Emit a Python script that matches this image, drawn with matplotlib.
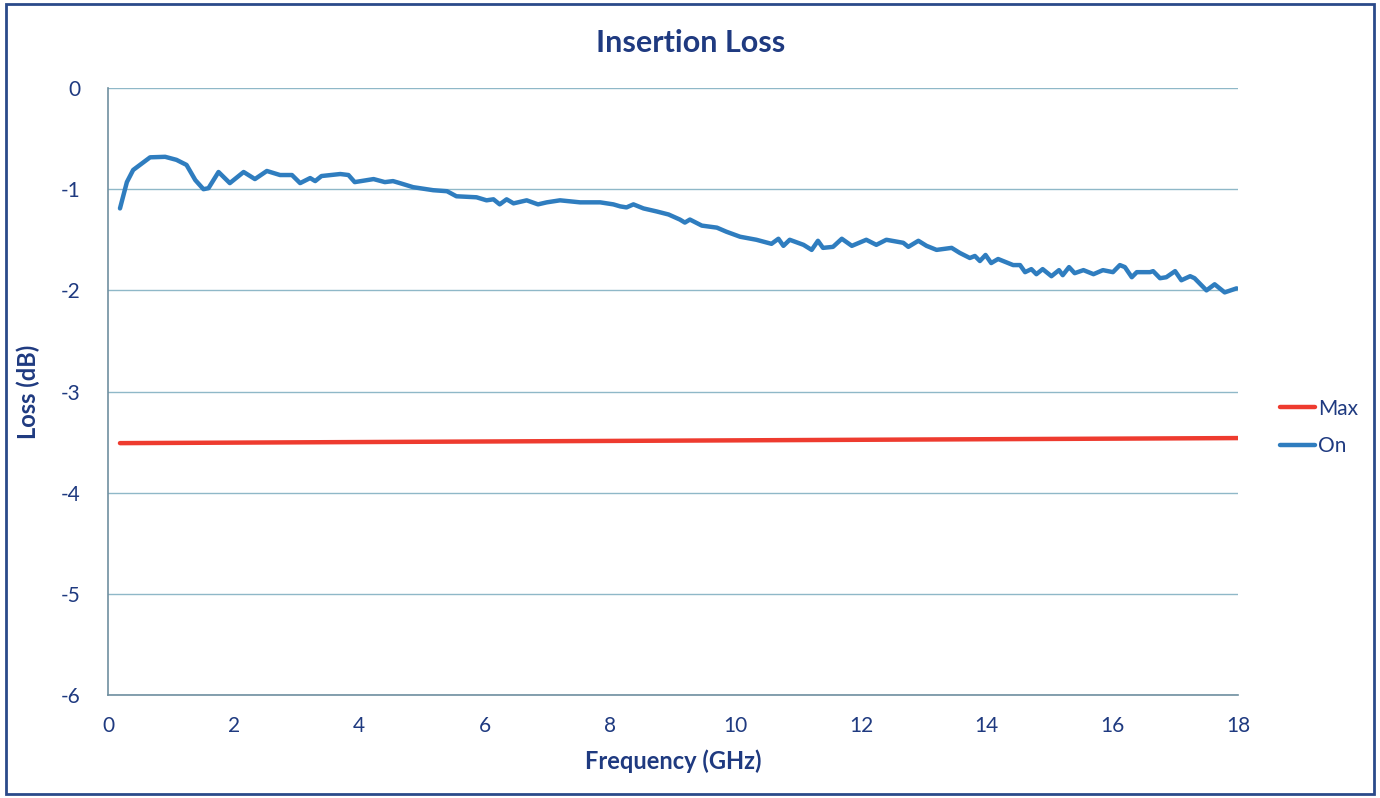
import matplotlib.pyplot as plt
from matplotlib.patches import Rectangle

freq_on = [0.19, 0.30, 0.40, 0.67, 0.91, 1.09, 1.25, 1.39, 1.52, 1.60, 1.76, 1.94,
           2.16, 2.34, 2.53, 2.74, 2.93, 3.06, 3.22, 3.30, 3.40, 3.70, 3.83, 3.93,
           4.23, 4.41, 4.54, 4.65, 4.86, 5.18, 5.40, 5.55, 5.87, 6.03, 6.14, 6.24,
           6.35, 6.46, 6.67, 6.85, 6.99, 7.20, 7.52, 7.84, 8.05, 8.16, 8.26, 8.37,
           8.53, 8.74, 8.93, 9.11, 9.19, 9.27, 9.46, 9.70, 9.85, 10.07, 10.33, 10.57,
           10.68, 10.76, 10.86, 11.08, 11.21, 11.31, 11.39, 11.55, 11.69, 11.85, 12.08,
           12.24, 12.40, 12.67, 12.75, 12.91, 13.04, 13.20, 13.44, 13.57, 13.73, 13.81,
           13.89, 13.98, 14.07, 14.18, 14.42, 14.53, 14.61, 14.71, 14.79, 14.89, 15.03,
           15.15, 15.21, 15.31, 15.40, 15.54, 15.70, 15.85, 16.01, 16.12, 16.20, 16.31,
           16.39, 16.60, 16.65, 16.76, 16.86, 17.00, 17.10, 17.24, 17.31, 17.50, 17.63,
           17.79, 17.98]
loss_on = [-1.19, -0.93, -0.81, -0.685, -0.68, -0.71, -0.76, -0.91, -1.00, -0.99, -0.83, -0.94,
           -0.83, -0.90, -0.82, -0.86, -0.86, -0.94, -0.89, -0.92, -0.87, -0.85, -0.86, -0.93,
           -0.90, -0.93, -0.92, -0.94, -0.98, -1.01, -1.02, -1.07, -1.08, -1.11, -1.10, -1.15,
           -1.10, -1.14, -1.11, -1.15, -1.13, -1.11, -1.13, -1.13, -1.15, -1.17, -1.18, -1.15,
           -1.19, -1.22, -1.25, -1.30, -1.33, -1.30, -1.36, -1.38, -1.42, -1.47, -1.50, -1.54,
           -1.49, -1.56, -1.50, -1.55, -1.60, -1.51, -1.58, -1.57, -1.49, -1.56, -1.50,
           -1.55, -1.50, -1.53, -1.57, -1.51, -1.56, -1.60, -1.58, -1.63, -1.68, -1.66,
           -1.71, -1.65, -1.73, -1.69, -1.75, -1.75, -1.82, -1.79, -1.84, -1.79, -1.86,
           -1.80, -1.85, -1.77, -1.83, -1.80, -1.84, -1.80, -1.82, -1.75, -1.77, -1.87,
           -1.82, -1.82, -1.81, -1.88, -1.87, -1.81, -1.90, -1.86, -1.88, -2.00, -1.94,
           -2.02, -1.98]

# spec limit ("Max")
freq_max = [0.19, 18.0]
loss_max = [-3.51, -3.46]

x_ticks = [0, 2, 4, 6, 8, 10, 12, 14, 16, 18]
y_ticks = [0, -1, -2, -3, -4, -5, -6]

plt.rcParams['font.family'] = ['Lato', 'DejaVu Sans']
plt.rcParams['axes.unicode_minus'] = False

navy = '#1f3a80'
grid_col = '#8fb8c8'

fig = plt.figure(figsize=(13.8, 7.98), dpi=100)
ax = fig.add_axes([0.0783, 0.129, 0.8187, 0.7607])

ax.plot(freq_max, loss_max, color='#ee3b2f', lw=3.2, solid_capstyle='round', label='Max')
ax.plot(freq_on, loss_on, color='#2f7dbf', lw=3.2, solid_joinstyle='round',
        solid_capstyle='round', label='On')

ax.set_xlim(0, 18)
ax.set_ylim(-6, 0)
ax.set_xticks(x_ticks)
ax.set_yticks(y_ticks)
ax.tick_params(length=0, labelsize=15, labelcolor=navy, pad=20)
ax.tick_params(axis='x', pad=15)
ax.yaxis.grid(True, color=grid_col, lw=1)
ax.set_axisbelow(True)
for s in ['top', 'right']:
    ax.spines[s].set_visible(False)
for s in ['left', 'bottom']:
    ax.spines[s].set_color('#6f8fa0')
    ax.spines[s].set_linewidth(1.2)

ax.set_title('Insertion Loss', fontsize=22, fontweight='bold', color=navy, pad=26, x=0.516)
ax.set_xlabel('Frequency (GHz)', fontsize=17, fontweight='bold', color=navy, labelpad=10)
ax.set_ylabel('Loss (dB)', fontsize=17, fontweight='bold', color=navy, labelpad=15)

ax.legend(loc='center left', bbox_to_anchor=(1.037, 0.4407), frameon=False,
          fontsize=15, handlelength=1.7, handletextpad=0.15, labelspacing=0.85,
          borderaxespad=0, borderpad=0, labelcolor=navy)

fig.patches.append(Rectangle((0.004, 0.005), 0.992, 0.99, transform=fig.transFigure,
                             fill=False, edgecolor='#2a4a8a', lw=2))

fig.savefig('out.png', dpi=100)
